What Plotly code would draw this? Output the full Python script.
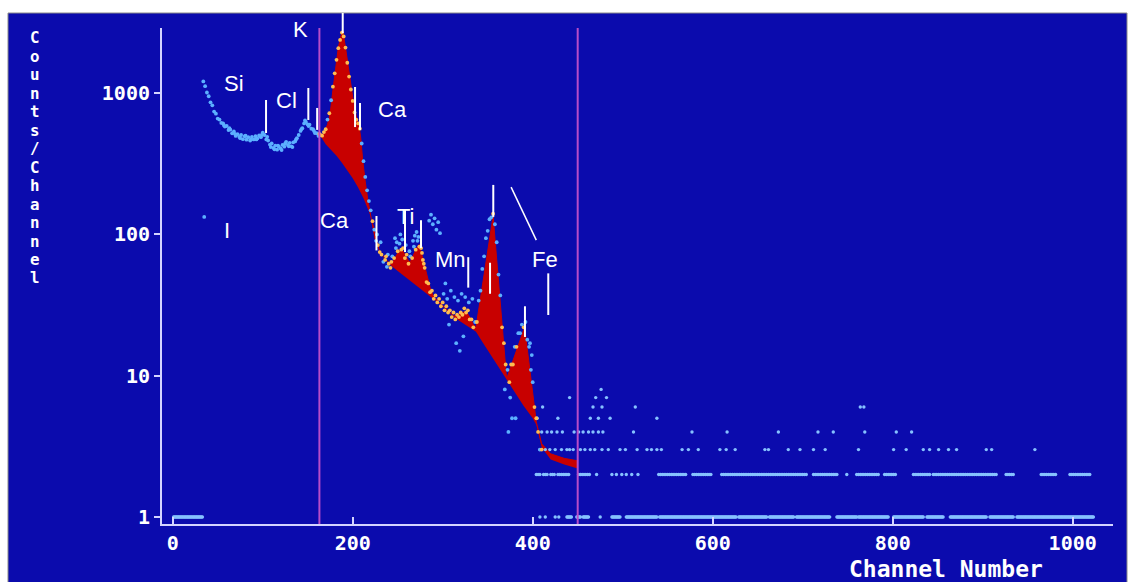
import numpy as np
import plotly.graph_objects as go

# ---------------------------------------------------------------------------
# Measured spectrum (counts per channel)
# ---------------------------------------------------------------------------
main_channels = list(range(34, 412, 2))
main_counts = [
    1210, 1120, 1010, 950, 860, 820, 740, 715, 660, 650,      # 34-52
    615, 610, 580, 585, 548, 552, 520, 535, 498, 512,         # 54-72
    490, 505, 472, 495, 468, 488, 462, 490, 470, 495,         # 74-92
    478, 502, 488, 525, 505, 470, 462, 432, 440, 410,         # 94-112
    425, 398, 418, 405, 430, 418, 452, 430, 445, 420,         # 114-132
    448, 455, 480, 505, 540, 565, 610, 625, 600, 598,         # 134-152
    560, 555, 522, 520, 498, 505, 500, 530, 555, 650,         # 154-172
    720, 890, 1110, 1380, 1720, 2080, 2380, 2680, 2520, 2100, # 174-192
    1640, 1310, 1060, 880, 730, 650, 610, 560, 440, 330,      # 194-212
    255, 205, 172, 148, 124, 108, 90, 84, 75, 72,             # 214-232
    64, 66, 59, 62, 58, 70, 68, 80, 76, 86,                   # 234-252
    78, 80, 68, 72, 62, 70, 68, 82, 78, 90,                   # 254-272
    82, 80, 66, 58, 46, 45, 39, 40, 35, 37,                   # 274-292
    33, 35, 31, 33, 29, 31, 28, 29, 26, 28,                   # 294-312
    25, 27, 26, 28, 27, 30, 28, 29, 25, 25,                   # 314-332
    22, 24, 24, 34, 40, 57, 70, 94, 106, 128,                 # 334-352
    132, 140, 118, 88, 52, 37, 22, 17, 12, 11,                # 354-372
    9, 12, 12, 16, 16, 20, 20, 23, 22, 24,                    # 374-392
    18, 16, 11, 9, 6, 5, 4, 3, 3,                             # 394-410
]

# odd channels that scatter away from the even-channel trace
extra_channels = [
    35, 57, 63, 69, 75, 81, 87, 93, 99, 105,
    109, 113, 117, 121, 125, 129, 133, 137, 143, 147,
    151, 157, 163, 227, 231, 237, 239, 243, 247, 249,
    253, 255, 259, 263, 267, 269, 271, 273, 277, 279,
    285, 287, 289, 291, 293, 295, 297, 301, 303, 305,
    307, 309, 313, 315, 317, 319, 321, 323, 325, 329,
    333, 369, 373, 375, 377, 381, 397, 399,
]
extra_counts = [
    133, 590, 565, 515, 480, 500, 470, 470, 505, 490,
    415, 400, 425, 395, 440, 420, 415, 470, 555, 640,
    585, 540, 515, 100, 88, 70, 72, 64, 94, 88,
    100, 92, 84, 76, 90, 98, 104, 96, 74, 62,
    125, 138, 118, 130, 108, 122, 102, 38, 45, 35,
    23, 40, 36, 17, 34, 15, 38, 19, 36, 33,
    35, 8, 4, 7, 5, 5, 17, 14,
]

# high-channel tail: runs of channels holding 1 or 2 counts, single channels above
tail_runs_1 = [(1, 33), (408, 408), (414, 414), (425, 425), (429, 429),
               (438, 443), (449, 453), (456, 462), (475, 475), (488, 497),
               (504, 538), (541, 626), (629, 660), (663, 690), (693, 730),
               (738, 760), (762, 795), (801, 834), (838, 856), (864, 904),
               (908, 934), (938, 1023)]
tail_runs_2 = [(404, 408), (412, 417), (420, 424), (428, 440), (451, 464),
               (471, 471), (488, 488), (493, 493), (499, 499), (504, 504),
               (510, 510), (517, 517), (540, 571), (578, 599), (610, 704),
               (712, 738), (749, 749), (760, 784), (791, 804), (823, 841),
               (845, 915), (926, 934), (965, 982), (997, 1019)]
tail_ch_3 = [408, 414, 419, 425, 432, 438, 441, 445, 453, 458, 464, 469, 477,
             484, 497, 503, 516, 527, 532, 538, 543, 566, 573, 584, 608, 615,
             625, 658, 662, 684, 697, 712, 725, 762, 801, 815, 834, 841, 851,
             862, 871, 904, 910, 958]
tail_ch_4 = [410, 416, 421, 427, 433, 446, 451, 456, 462, 467, 473, 478, 512,
             577, 616, 673, 717, 734, 769, 804, 821]
tail_ch_5 = [405, 428, 464, 473, 486, 538]
tail_ch_6 = [411, 467, 477, 514, 764, 768]
tail_ch_7 = [441, 470, 482]
tail_ch_8 = [476]

# ---------------------------------------------------------------------------
# Fit result inside the region of interest
# ---------------------------------------------------------------------------
fit_channels = [164, 168, 172, 175, 178, 181, 184, 187, 189, 192,
                195, 198, 201, 204, 207, 209, 211, 214, 217, 221,
                225, 230, 236, 242, 246, 250, 254, 258, 262, 264,
                268, 271, 274, 278, 282, 286, 290, 300, 312, 318,
                322, 326, 330, 334, 337, 356, 371, 391, 404, 410,
                420, 435, 450]
fit_counts = [500, 520, 600, 720, 1050, 1550, 2100, 2550, 2750, 2100,
              1550, 1120, 850, 680, 590, 480, 340, 235, 172, 126,
              92, 76, 67, 62, 66, 74, 80, 72, 65, 64,
              72, 80, 85, 68, 52, 42, 36, 31.5, 26.5, 27,
              28, 28.5, 26, 23, 22, 135, 9.5, 22, 4.7, 3.3,
              2.8, 2.6, 2.5]
bg_channels = [164, 170, 176, 182, 188, 194, 200, 206, 212, 218,
               224, 230, 240, 250, 260, 270, 280, 290, 300, 312,
               325, 337, 345, 355, 365, 371, 380, 390, 400, 404,
               410, 420, 435, 450]
bg_counts = [500, 435, 395, 360, 322, 285, 250, 215, 180, 145,
             112, 76, 62, 55, 49, 44, 39, 35, 31, 26,
             23, 20.5, 17, 13.5, 10.8, 9.3, 7.6, 6.1, 5, 4.5,
             3.1, 2.55, 2.35, 2.2]
roi_bounds = [163, 450]

# ---------------------------------------------------------------------------
# Element identification
# ---------------------------------------------------------------------------
label_text = ["Si", "Cl", "K", "Ca", "Ca", "Ti", "Mn", "Fe", "I"]
label_channel = [68, 126, 142, 244, 180, 259, 309, 414, 60]
label_counts = [1160, 880, 2800, 760, 126, 133, 66, 66, 106]

line_channel = [103.7, 150.7, 160.5, 188.9, 202.6, 208.1, 226.4, 258.1,
                275.9, 328.4, 356.2, 352.6, 391.4, 417.3]
line_low = [522, 645, 549, 2663, 575, 549, 77, 75, 80, 42, 133, 38, 18.8, 26.9]
line_high = [894, 1087, 785, 3690, 1105, 851, 135, 149, 126, 69, 224, 63, 31, 53]
pointer_channel = [376, 404]
pointer_counts = [216, 91]

x_tick_vals = [0, 200, 400, 600, 800, 1000]
y_tick_vals = [1, 10, 100, 1000]
y_title = "Counts/Channel"
x_title = "Channel Number"

# ---------------------------------------------------------------------------
# Layout geometry and colours
# ---------------------------------------------------------------------------
W, H = 1132, 582
M_L, M_R, M_T, M_B = 162, 19, 28, 58
PW, PH = W - M_L - M_R, H - M_T - M_B
X_RANGE = [-11.9, 1044.8]
Y_RANGE = [-0.0495, 3.4607]

BLUE = "#0b0bad"
AXIS = "#d4d4ff"
RED = "#c80000"
DOT = "#5cb0ff"
DOT_ON_FIT = "#ffbc4f"
TAIL_DOT = "#86c2ff"
ROI_LINE = "#b84cc8"
MONO = "DejaVu Sans Mono"
SANS = "Liberation Sans, Arial, sans-serif"


def px_to_paper_x(px):
    return (px - M_L) / PW


def px_to_paper_y(py):
    return (H - M_B - py) / PH


def xdom(ch):
    return (ch - X_RANGE[0]) / (X_RANGE[1] - X_RANGE[0])


def ydom(c):
    return (np.log10(c) - Y_RANGE[0]) / (Y_RANGE[1] - Y_RANGE[0])


# ---------------------------------------------------------------------------
# Assemble the point sets
# ---------------------------------------------------------------------------
pts_x = np.array(main_channels + extra_channels, dtype=float)
pts_y = np.array(main_counts + extra_counts, dtype=float)

lb = np.interp(pts_x, bg_channels, np.log10(bg_counts))
lf = np.interp(pts_x, fit_channels, np.log10(fit_counts))
ly = np.log10(pts_y)
in_roi = (pts_x >= roi_bounds[0]) & (pts_x <= roi_bounds[1])
on_fit = in_roi & (ly >= lb - 0.02) & (ly <= lf + 0.03)

tail_x, tail_y = [], []
for a, b in tail_runs_1:
    for c in range(a, b + 1):
        tail_x.append(c)
        tail_y.append(1)
for a, b in tail_runs_2:
    for c in range(a, b + 1, 2):
        tail_x.append(c)
        tail_y.append(2)
for level, chans in ((3, tail_ch_3), (4, tail_ch_4), (5, tail_ch_5),
                     (6, tail_ch_6), (7, tail_ch_7), (8, tail_ch_8)):
    for c in chans:
        tail_x.append(c)
        tail_y.append(level)

fig = go.Figure()

# fitted peaks: red area between background and total fit
fig.add_trace(go.Scatter(x=bg_channels, y=bg_counts, mode="lines",
                         line=dict(width=0, color=RED), hoverinfo="skip"))
fig.add_trace(go.Scatter(x=fit_channels, y=fit_counts, mode="lines",
                         line=dict(width=1, color=RED), fill="tonexty",
                         fillcolor=RED, hoverinfo="skip"))

# measured points
fig.add_trace(go.Scatter(x=tail_x, y=tail_y, mode="markers",
                         marker=dict(size=3.4, color=TAIL_DOT)))
fig.add_trace(go.Scatter(x=pts_x[~on_fit], y=pts_y[~on_fit], mode="markers",
                         marker=dict(size=3.8, color=DOT)))
fig.add_trace(go.Scatter(x=pts_x[on_fit], y=pts_y[on_fit], mode="markers",
                         marker=dict(size=3.8, color=DOT_ON_FIT)))

shapes = []
# panel background with a thin frame
shapes.append(dict(type="rect", xref="paper", yref="paper", layer="below",
                   x0=px_to_paper_x(8), x1=px_to_paper_x(1127),
                   y0=px_to_paper_y(H + 2), y1=px_to_paper_y(13),
                   fillcolor=BLUE, line=dict(color="#8a8a8a", width=1)))
# region-of-interest boundaries
for ch in roi_bounds:
    shapes.append(dict(type="line", xref="x domain", yref="y domain",
                       x0=xdom(ch), x1=xdom(ch), y0=0, y1=1,
                       line=dict(color=ROI_LINE, width=2)))
# element marker lines
for ch, lo, hi in zip(line_channel, line_low, line_high):
    shapes.append(dict(type="line", xref="x domain", yref="y domain",
                       x0=xdom(ch), x1=xdom(ch), y0=ydom(lo), y1=ydom(hi),
                       line=dict(color="white", width=2)))
shapes.append(dict(type="line", xref="x domain", yref="y domain",
                   x0=xdom(pointer_channel[0]), x1=xdom(pointer_channel[1]),
                   y0=ydom(pointer_counts[0]), y1=ydom(pointer_counts[1]),
                   line=dict(color="white", width=1.5)))

annotations = []
for t, ch, c in zip(label_text, label_channel, label_counts):
    annotations.append(dict(x=ch, y=np.log10(c), xref="x", yref="y", text=t,
                            showarrow=False, xanchor="center", yanchor="middle",
                            font=dict(family=SANS, size=22, color="white")))

# stacked vertical axis title, one upright letter per row
title_top_px, title_step_px = 38, 18.46
for i, ch in enumerate(y_title):
    annotations.append(dict(x=px_to_paper_x(35),
                            y=px_to_paper_y(title_top_px + i * title_step_px),
                            xref="paper", yref="paper", text="<b>%s</b>" % ch,
                            showarrow=False, xanchor="center", yanchor="middle",
                            font=dict(family=MONO, size=15.8, color="white")))
annotations.append(dict(x=px_to_paper_x(946), y=px_to_paper_y(569),
                        xref="paper", yref="paper", text="<b>%s</b>" % x_title,
                        showarrow=False, xanchor="center", yanchor="middle",
                        font=dict(family=MONO, size=23, color="white")))

tick_font = dict(family=MONO, size=20, color="white", weight="bold")

fig.update_layout(
    width=W, height=H,
    margin=dict(l=M_L, r=M_R, t=M_T, b=M_B, pad=0),
    paper_bgcolor="white", plot_bgcolor="rgba(0,0,0,0)",
    showlegend=False,
    shapes=shapes, annotations=annotations,
    xaxis=dict(range=X_RANGE, tickvals=x_tick_vals,
               ticktext=[str(v) for v in x_tick_vals],
               ticks="inside", ticklen=7, tickwidth=2, tickcolor=AXIS,
               showline=True, linecolor=AXIS, linewidth=2,
               showgrid=False, zeroline=False, tickfont=tick_font),
    yaxis=dict(type="log", range=Y_RANGE, tickvals=y_tick_vals,
               ticktext=[str(v) for v in y_tick_vals],
               ticks="outside", ticklen=6, tickwidth=2, tickcolor=AXIS,
               showline=True, linecolor=AXIS, linewidth=2,
               showgrid=False, zeroline=False, tickfont=tick_font),
)

fig.write_html("out.html", config={"displayModeBar": False})
